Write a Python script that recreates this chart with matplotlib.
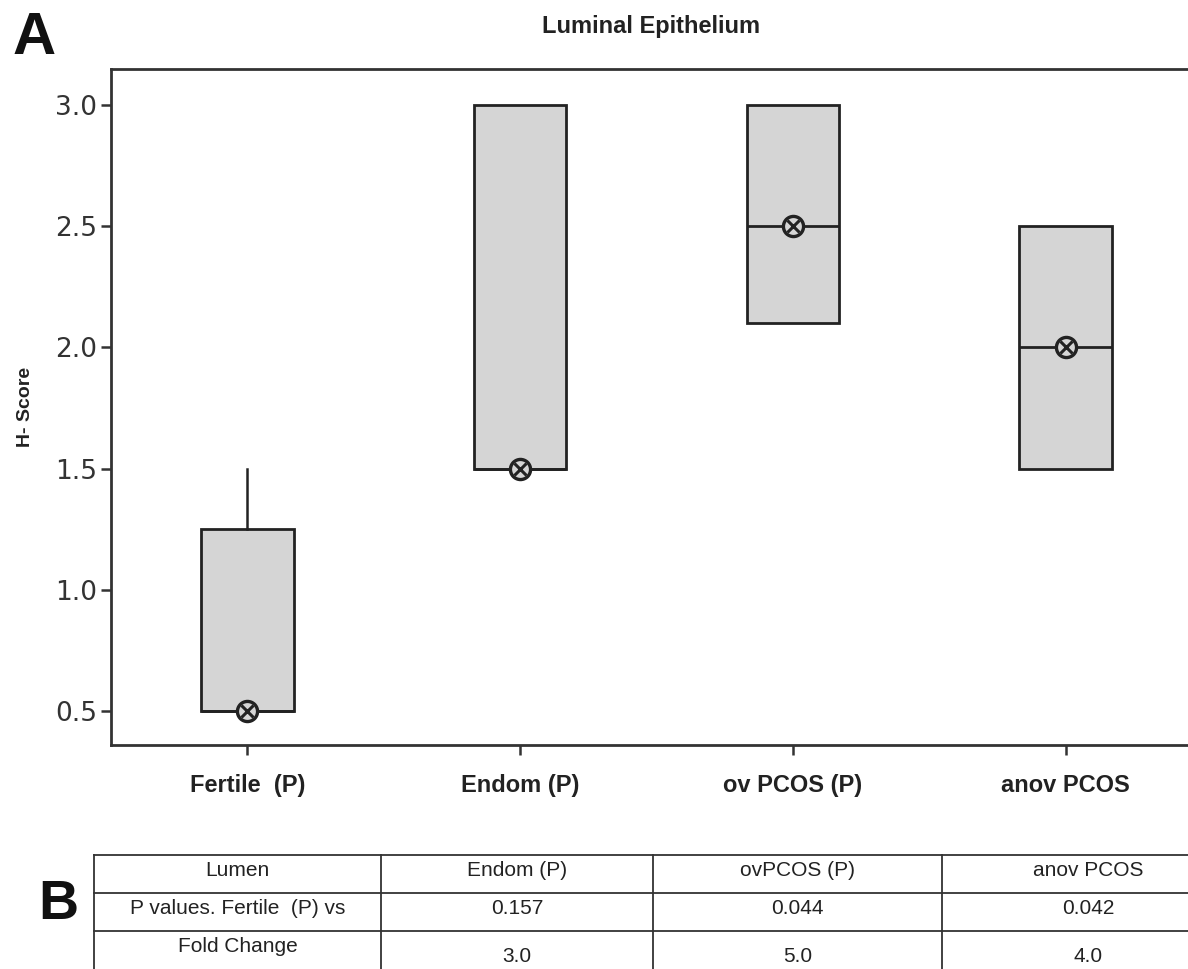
import matplotlib.pyplot as plt
from matplotlib.lines import Line2D

# group summaries (H-score)
groups = ['Fertile  (P)', 'Endom (P)', 'ov PCOS (P)', 'anov PCOS']
q1 = [0.5, 1.5, 2.1, 1.5]
med = [0.5, 1.5, 2.5, 2.0]
q3 = [1.25, 3.0, 3.0, 2.5]
whislo = [0.5, 1.5, 2.1, 1.5]
whishi = [1.5, 3.0, 3.0, 2.5]
centre = [0.5, 1.5, 2.5, 2.0]

yticks = [0.5, 1.0, 1.5, 2.0, 2.5, 3.0]

# table B
table_cols = ['Lumen', 'Endom (P)', 'ovPCOS (P)', 'anov PCOS']
p_values = ['0.157', '0.044', '0.042']
fold_change = ['3.0', '5.0', '4.0']

W, H = 1188, 969
fig = plt.figure(figsize=(W / 100, H / 100), dpi=100)

def px(x0, y0, x1, y1):
    return [x0 / W, 1 - y1 / H, (x1 - x0) / W, (y1 - y0) / H]

ax = fig.add_axes(px(111, 69, 1202, 745))

stats = []
for i, g in enumerate(groups):
    stats.append(dict(label=g, q1=q1[i], med=med[i], q3=q3[i],
                      whislo=whislo[i], whishi=whishi[i], fliers=[]))

ax.bxp(stats, positions=range(1, 5), widths=0.34, patch_artist=True,
       showcaps=False, showfliers=False,
       boxprops=dict(facecolor='#d5d5d5', edgecolor='#222222', linewidth=2),
       medianprops=dict(color='#222222', linewidth=2),
       whiskerprops=dict(color='#222222', linewidth=1.8))

xs = list(range(1, 5))
ax.plot(xs, centre, ls='none', marker='o', ms=14.5, mfc='#d5d5d5', mec='#222222', mew=2.4, zorder=5)
ax.plot(xs, centre, ls='none', marker='x', ms=9, mec='#222222', mew=2.2, zorder=6)

ax.set_xlim(0.5, 4.5)
ax.set_ylim(0.36, 3.1485)
ax.set_yticks(yticks)
ax.set_yticklabels(['%.1f' % v for v in yticks], fontsize=19, color='#333333',
                   family='DejaVu Sans')
ax.set_xticks(xs)
ax.set_xticklabels(groups, fontsize=17, fontweight='bold', color='#222222',
                   family='Liberation Sans')
ax.tick_params(axis='x', length=7, width=1.8, pad=14, color='#333333')
ax.tick_params(axis='y', length=7, width=1.8, pad=3, color='#333333')
for s in ax.spines.values():
    s.set_linewidth(2)
    s.set_color('#333333')
ax.set_ylabel('H- Score', fontsize=14, fontweight='bold', family='Liberation Sans',
              color='#222222')
ax.yaxis.set_label_coords(-0.071, 0.5)

fig.text(651 / W, 1 - 27 / H, 'Luminal Epithelium', ha='center', va='center',
         fontsize=17, fontweight='bold', family='Liberation Sans', color='#222222')
fig.text(13 / W, 1 - 38 / H, 'A', ha='left', va='center', fontsize=43,
         fontweight='bold', family='Liberation Sans', color='#111111')
fig.text(38 / W, 1 - 905 / H, 'B', ha='left', va='center', fontsize=40,
         fontweight='bold', family='Liberation Sans', color='#111111')

# table drawn on a pixel-coordinate overlay
tab = fig.add_axes([0, 0, 1, 1], zorder=-1)
tab.set_xlim(0, W)
tab.set_ylim(H, 0)
tab.axis('off')
col_x = [94, 381, 653, 942, 1235]
row_y = [855, 893, 931, 1000]
lc = '#333333'
for y in row_y[:-1]:
    tab.add_line(Line2D([col_x[0], col_x[-1]], [y, y], color=lc, lw=1.3))
for x in col_x[:-1]:
    tab.add_line(Line2D([x, x], [row_y[0], row_y[-1]], color=lc, lw=1.3))

tkw = dict(ha='center', va='center', fontsize=15, family='Liberation Sans', color='#222222')
mids = [(col_x[i] + col_x[i + 1]) / 2 for i in range(4)]
for i, t in enumerate(table_cols):
    tab.text(mids[i], 871, t, **tkw)
tab.text(mids[0], 909, 'P values. Fertile  (P) vs', **tkw)
for i, v in enumerate(p_values):
    tab.text(mids[i + 1], 909, v, **tkw)
tab.text(mids[0], 947, 'Fold Change', **tkw)
for i, v in enumerate(fold_change):
    tab.text(mids[i + 1], 957, v, **tkw)

fig.savefig('out.png', dpi=100)
